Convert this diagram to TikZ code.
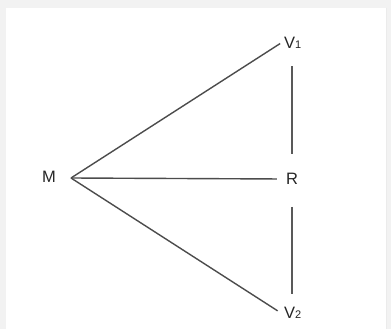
\documentclass[tikz,border=0pt]{standalone}
\usepackage{fontspec}
\setmainfont{Liberation Sans}
\begin{document}
\begin{tikzpicture}[x=1pt,y=-1pt,
  lbl/.style={text=black!85,font=\fontsize{16.5}{16.5}\selectfont,inner sep=3pt},
  edge/.style={draw=black!70,line width=1.4pt},
  vedge/.style={draw=black!65,line width=1.2pt}]
\useasboundingbox (0,0) rectangle (391,329);
\fill[black!5] (0,0) rectangle (391,329);
\fill[white] (6,8) rectangle (386,329);
\draw[black!8,line width=0.6pt] (386,8) -- (386,329);
\newcommand{\subone}[1]{\raisebox{-0.5pt}{\fontsize{11}{11}\selectfont #1}}
\node[lbl] (M) at (49,177) {M};
\node[lbl,anchor=west] (V1) at (281,43) {V\subone{1}};
\node[lbl] (R) at (292,179) {R};
\node[lbl,anchor=west] (V2) at (281,313) {V\subone{2}};
\coordinate (tip) at (71,178);
\draw[edge,shorten >=1pt] (tip) -- (V1.west);
\draw[edge,shorten >=6pt] (tip) -- (R.west);
\draw[edge,shorten >=4pt] (tip) -- (V2.west);
\draw[vedge,shorten <=14pt,shorten >=16pt] (V1.south -| R.north) -- (R.north);
\draw[vedge,shorten <=19pt,shorten >=10pt] (R.south) -- (V2.north -| R.south);
\end{tikzpicture}
\end{document}
